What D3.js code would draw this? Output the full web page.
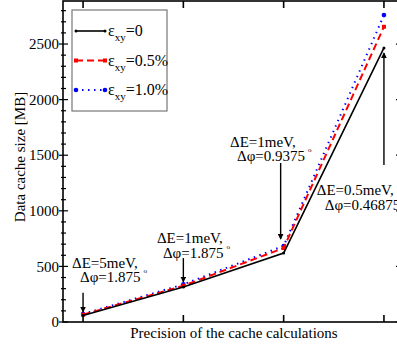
<!DOCTYPE html>
<html>
<head>
<meta charset="utf-8">
<script src="https://cdn.jsdelivr.net/npm/d3@7"></script>
<style>
  body { margin: 0; background: #fff; }
</style>
</head>
<body>
<div id="chart"></div>
<script>
// precision steps (x positions 1..4) and cache sizes in MB
var steps = [1, 2, 3, 4];
var strain0 = [58, 315, 620, 2465];
var strain05 = [66, 326, 665, 2655];
var strain10 = [72, 338, 684, 2760];
var yTicks = [0, 500, 1000, 1500, 2000, 2500];
var seriesNames = ["=0", "=0.5%", "=1.0%"];

// annotations: arrow at step x from value y0 to y1, labels anchored in data units
var notes = [
  { x: 1, y0: 262, y1: 90, tx: 0.89, ty: 486, indent: 8, l1: "ΔE=5meV,", l2: "Δφ=1.875" },
  { x: 2, y0: 575, y1: 360, tx: 1.737, ty: 708, indent: 6, l1: "ΔE=1meV,", l2: "Δφ=1.875" },
  { x: 2.97, y0: 1430, y1: 746, tx: 2.465, ty: 1578, indent: 7, l1: "ΔE=1meV,", l2: "Δφ=0.9375" },
  { x: 4, y0: 1412, y1: 2420, tx: 3.33, ty: 1142, indent: 8, l1: "ΔE=0.5meV,", l2: "Δφ=0.46875" }
];

var font = "'Liberation Serif', 'Times New Roman', Times, serif";

var svgWidth = 397;
var svgHeight = 349;
var margin = { top: 1, right: -7, bottom: 27, left: 63 };
var width = svgWidth - margin.left - margin.right;
var height = svgHeight - margin.top - margin.bottom;

var svg = d3.select("#chart").append("svg")
    .attr("width", svgWidth)
    .attr("height", svgHeight)
    .attr("font-family", font);

svg.append("defs").append("marker")
    .attr("id", "arrow")
    .attr("viewBox", "0 0 10 10")
    .attr("refX", 9).attr("refY", 5)
    .attr("markerWidth", 6).attr("markerHeight", 6)
    .attr("markerUnits", "userSpaceOnUse")
    .attr("orient", "auto")
  .append("path")
    .attr("d", "M0,0 L10,5 L0,10 Z")
    .attr("fill", "#000");

var g = svg.append("g")
    .attr("transform", `translate(${margin.left}, ${margin.top})`);

var x = d3.scaleLinear().domain([0.8, 4.2]).range([0, width]);
var y = d3.scaleLinear().domain([0, 2887]).range([height, 0]);

// frame
g.append("rect")
    .attr("width", width).attr("height", height)
    .attr("fill", "none").attr("stroke", "#000").attr("stroke-width", 1.6);

// y ticks
var minor = d3.range(0, 2900, 100);
g.selectAll(".ytick").data(minor).enter().append("line")
    .attr("x1", d => yTicks.includes(d) ? -4 : -2)
    .attr("x2", d => yTicks.includes(d) ? 5 : 3)
    .attr("y1", d => y(d)).attr("y2", d => y(d))
    .attr("stroke", "#000").attr("stroke-width", 1.2);
g.selectAll(".rtick").data(minor).enter().append("line")
    .attr("x1", width).attr("x2", d => width - (yTicks.includes(d) ? 8 : 4))
    .attr("y1", d => y(d)).attr("y2", d => y(d))
    .attr("stroke", "#000").attr("stroke-width", 1.2);
g.selectAll(".ylab").data(yTicks).enter().append("text")
    .attr("x", -4).attr("y", d => y(d))
    .attr("dy", "0.35em")
    .attr("text-anchor", "end")
    .attr("font-family", font)
    .style("font-size", "15px")
    .text(d => d);

// x ticks top and bottom
g.selectAll(".xtb").data(steps).enter().append("line")
    .attr("x1", d => x(d)).attr("x2", d => x(d))
    .attr("y1", height).attr("y2", height - 7)
    .attr("stroke", "#000").attr("stroke-width", 1.6);
g.selectAll(".xtt").data(steps).enter().append("line")
    .attr("x1", d => x(d)).attr("x2", d => x(d))
    .attr("y1", 0).attr("y2", 7)
    .attr("stroke", "#000").attr("stroke-width", 1.6);

// axis titles
svg.append("text")
    .attr("x", 234).attr("y", 338)
    .attr("text-anchor", "middle")
    .attr("font-family", font)
    .style("font-size", "15px")
    .text("Precision of the cache calculations");
svg.append("text")
    .attr("transform", "translate(25, 157) rotate(-90)")
    .attr("text-anchor", "middle")
    .attr("font-family", font)
    .style("font-size", "15px")
    .text("Data cache size [MB]");

// series
var series = [
  { values: strain0, color: "#000", dash: null, w: 1.6, mark: "dot" },
  { values: strain05, color: "#f00", dash: "7,4", w: 2, mark: "square" },
  { values: strain10, color: "#00f", dash: "1.5,4.5", w: 2, mark: "circle" }
];

var line = d3.line().x(d => x(d[0])).y(d => y(d[1]));

function drawMark(sel, s, px, py) {
  if (s.mark === "square") {
    sel.append("rect").attr("x", px - 2).attr("y", py - 2)
      .attr("width", 4).attr("height", 4).attr("fill", s.color);
  } else {
    sel.append("circle").attr("cx", px).attr("cy", py)
      .attr("r", s.mark === "circle" ? 2.3 : 1.5).attr("fill", s.color);
  }
}

series.slice().reverse().forEach(function(s) {
  var pts = steps.map((d, i) => [d, s.values[i]]);
  g.append("path")
      .attr("d", line(pts))
      .attr("fill", "none")
      .attr("stroke", s.color)
      .attr("stroke-width", s.w)
      .attr("stroke-dasharray", s.dash);
  pts.forEach(p => drawMark(g, s, x(p[0]), y(p[1])));
});

// annotations
notes.forEach(function(n) {
  g.append("line")
      .attr("x1", x(n.x)).attr("x2", x(n.x))
      .attr("y1", y(n.y0)).attr("y2", y(n.y1))
      .attr("stroke", "#000").attr("stroke-width", 1.4)
      .attr("marker-end", "url(#arrow)");
  var t = g.append("text")
      .attr("x", x(n.tx)).attr("y", y(n.ty))
      .attr("font-family", font)
      .style("font-size", "15px");
  t.append("tspan").text(n.l1);
  t.append("tspan").attr("x", x(n.tx) + n.indent).attr("dy", 14.5).text(n.l2);
  t.append("tspan").attr("dx", 3).attr("dy", -9).style("font-size", "7px").text("o");
});

// legend
var legend = g.append("g");
legend.append("rect")
    .attr("x", 9).attr("y", 9).attr("width", 95).attr("height", 101)
    .attr("fill", "#fff").attr("stroke", "#777").attr("stroke-width", 1.2);
series.forEach(function(s, i) {
  var ly = 30 + i * 29.5;
  legend.append("line")
      .attr("x1", 13).attr("x2", 42).attr("y1", ly).attr("y2", ly)
      .attr("stroke", s.color).attr("stroke-width", s.w)
      .attr("stroke-dasharray", s.dash);
  drawMark(legend, s, 13, ly);
  drawMark(legend, s, 42, ly);
  var t = legend.append("text")
      .attr("x", 45).attr("y", ly + 5)
      .attr("font-family", font)
      .style("font-size", "16px");
  t.append("tspan").text("ε");
  t.append("tspan").attr("dy", 5).style("font-size", "11px").text("xy");
  t.append("tspan").attr("dy", -5).text(seriesNames[i]);
});
</script>
</body>
</html>
